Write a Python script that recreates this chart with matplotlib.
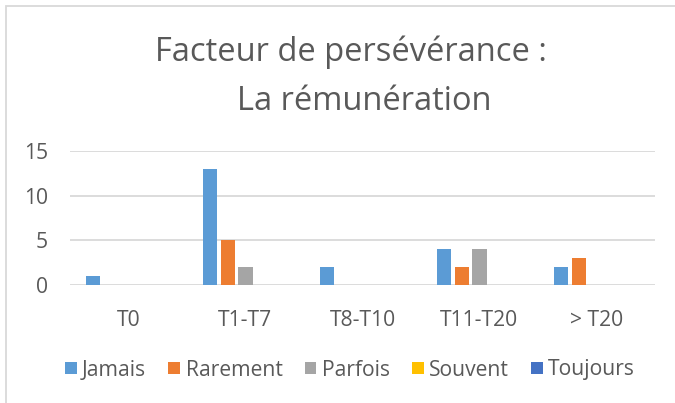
import matplotlib
matplotlib.use("Agg")
import matplotlib.pyplot as plt
from matplotlib.patches import Rectangle, Patch
import numpy as np

categories = ["T0", "T1-T7", "T8-T10", "T11-T20", "> T20"]
series_names = ["Jamais", "Rarement", "Parfois", "Souvent", "Toujours"]
jamais = [1, 13, 2, 4, 2]
rarement = [0, 5, 0, 2, 3]
parfois = [0, 2, 0, 4, 0]
souvent = [0, 0, 0, 0, 0]
toujours = [0, 0, 0, 0, 0]
colors = ["#5b9bd5", "#ed7d31", "#a5a5a5", "#ffc000", "#4472c4"]
yticks = [0, 5, 10, 15]

plt.rcParams["font.family"] = ["Open Sans", "DejaVu Sans"]
text_color = "#595959"
grid_color = "#d9d9d9"

W, H = 675, 403
fig = plt.figure(figsize=(W / 100, H / 100), dpi=100)

# chart-area frame
fig.patches.append(Rectangle((6 / W, -0.05), 1.1, 1 - 6 / H + 0.05,
                             transform=fig.transFigure, fill=False,
                             edgecolor=grid_color, linewidth=1.3))

ax = fig.add_axes([70 / W, 1 - 285 / H, 585 / W, 134 / H])
x = np.arange(len(categories))
slot = 0.153
values = [jamais, rarement, parfois, souvent, toujours]
for i, (vals, c) in enumerate(zip(values, colors)):
    ax.bar(x + (i - 2) * slot, vals, width=0.12, color=c, zorder=3)

ax.set_xlim(-0.5, len(categories) - 0.5)
ax.set_ylim(0, 15)
ax.set_yticks(yticks)
ax.set_xticks(x)
ax.set_xticklabels(categories)
ax.yaxis.grid(True, color=grid_color, linewidth=1.3, zorder=0)
ax.set_axisbelow(True)
for s in ax.spines.values():
    s.set_visible(False)
ax.tick_params(axis="both", length=0, colors=text_color, labelsize=15.2)
ax.tick_params(axis="y", pad=16)
ax.tick_params(axis="x", pad=18)

fig.text(350.5 / W, 1 - 61 / H, "Facteur de persévérance :", ha="center",
         va="baseline", fontsize=23.5, color=text_color)
fig.text(364 / W, 1 - 110 / H, "La rémunération", ha="center",
         va="baseline", fontsize=23.5, color=text_color)

handles = [Patch(facecolor=c, edgecolor="none") for c in colors]
fig.legend(handles, series_names, loc="center", bbox_to_anchor=(350 / W, 1 - 370 / H),
           ncol=5, frameon=False, fontsize=15.2, labelcolor=text_color,
           handlelength=0.56, handleheight=0.56, handletextpad=0.25,
           columnspacing=1.05)

fig.savefig("out.png", dpi=100)
